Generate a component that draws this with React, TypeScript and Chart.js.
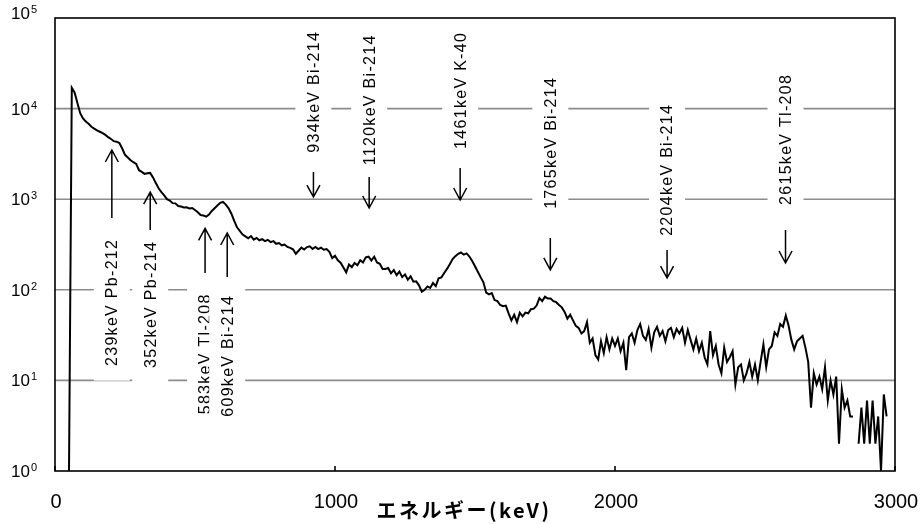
import React, { useEffect, useRef } from "react";
import { Chart, registerables } from "chart.js";

Chart.register(...registerables);

// ---- Data ----
// Spectrum: counts per channel, channel energies start at E_START keV with E_STEP spacing
const E_START = 50;
const E_STEP = 10;
const COUNTS: (number | null)[] = [
  // 50 - 140
  1, 17000, 15100, 11500, 8900, 7800, 7200, 6800, 6300, 6000,
  // 150 - 240
  5750, 5550, 5370, 5130, 4840, 4620, 4370, 4310, 4170, 3630,
  // 250 - 340
  3090, 2880, 2690, 2560, 2450, 2090, 2000, 1905, 1930, 1950,
  // 350 - 440
  1740, 1510, 1320, 1200, 1100, 1000, 965, 905, 900, 842,
  // 450 - 540
  830, 812, 815, 790, 800, 760, 718, 668, 660, 642,
  // 550 - 640
  676, 741, 794, 851, 912, 933, 871, 794, 692, 575,
  // 650 - 740
  490, 447, 407, 389, 370, 392, 358, 374, 352, 362,
  // 750 - 840
  345, 356, 336, 345, 322, 328, 310, 316, 297, 290,
  // 850 - 940
  280, 250, 270, 292, 278, 296, 302, 283, 297, 281,
  // 950 - 1040
  292, 277, 282, 262, 224, 238, 212, 199, 176, 156,
  // 1050 - 1140
  190, 178, 198, 187, 212, 200, 228, 232, 210, 232,
  // 1150 - 1240
  200, 194, 170, 170, 174, 152, 165, 145, 159, 138,
  // 1250 - 1340
  148, 129, 141, 123, 124, 112, 95, 100, 109, 105,
  // 1350 - 1440
  119, 110, 134, 137, 153, 170, 192, 218, 235, 250,
  // 1450 - 1540
  258, 244, 252, 233, 208, 182, 158, 138, 121, 93,
  // 1550 - 1640
  89, 92, 77, 75, 68, 66, 67, 55, 46, 53,
  // 1650 - 1740
  44, 56, 51, 56, 55, 61, 62, 67, 81, 75,
  // 1750 - 1840
  84, 80, 80, 75, 73, 68, 64, 57, 48, 53,
  // 1850 - 1940
  46, 40, 38, 33, 35, 44, 26, 29, 19, 17,
  // 1950 - 2040
  27, 20, 30, 22, 29, 24, 29, 21, 26, 13,
  // 2050 - 2140
  30, 33, 26, 36, 42, 31, 28, 37, 23, 34,
  // 2150 - 2240
  39, 31, 35, 27, 36, 38, 30, 37, 33, 38,
  // 2250 - 2340
  26, 36, 28, 22, 29, 21, 26, 18, 15, 35,
  // 2350 - 2440
  19, 24, 15, 12, 23, 16, 18, 21, 9, 14,
  // 2450 - 2540
  15, 10, 12, 16, 11, 15, 10, 16, 25, 14,
  // 2550 - 2640
  22, 24, 34, 31, 42, 39, 52, 40, 28, 22,
  // 2650 - 2740
  27, 29, 31, 23, 16, 5, 12, 9, 11, 8,
  // 2750 - 2840
  14, 6, 10, 7, 11, 2, 8, 5, 6, 4,
  // 2850 - 2940
  4, null, 2, 5, 2, 6, 2, 6, 2, 4,
  // 2950 - 2970
  1, 7, 4,
];

const X_TICKS = [0, 1000, 2000, 3000];
const Y_EXPONENTS = [0, 1, 2, 3, 4, 5];
const X_TITLE = "エネルギー(keV)";

// Peak annotations
const PEAK_LABELS = [
  "239keV Pb-212",
  "352keV Pb-214",
  "583keV Tl-208",
  "609keV Bi-214",
  "934keV Bi-214",
  "1120keV Bi-214",
  "1461keV K-40",
  "1765keV Bi-214",
  "2204keV Bi-214",
  "2615keV Tl-208",
];
// marker position on the energy axis (keV, as drawn)
const PEAK_MARK_E = [203, 340, 536, 615, 923, 1122, 1447, 1769, 2186, 2609];
const PEAK_ARROW_UP = [true, true, true, true, false, false, false, false, false, false];

// ---- Layout (in decades of the count axis) ----
const LABEL_CENTER_EXP = [1.854, 1.832, 1.286, 1.264, 4.178, 4.09, 4.194, 3.615, 3.317, 3.653];
const ARROW_TAIL_EXP = [2.792, 2.66, 2.185, 2.141, 3.3, 3.245, 3.344, 2.572, 2.439, 2.66];
const ARROW_TIP_EXP = [3.543, 3.079, 2.679, 2.627, 3.024, 2.903, 2.991, 2.219, 2.13, 2.296];

const SANS = '"Liberation Sans", Arial, sans-serif';

const decorPlugin = {
  id: "decor",
  beforeDatasetsDraw(chart: any) {
    const { ctx, chartArea: a, scales } = chart;
    const y = scales.y;
    ctx.save();
    ctx.strokeStyle = "#8c8c8c";
    ctx.lineWidth = 1.6;
    for (const e of Y_EXPONENTS) {
      if (e === Y_EXPONENTS[0] || e === Y_EXPONENTS[Y_EXPONENTS.length - 1]) continue;
      const py = y.getPixelForValue(Math.pow(10, e));
      ctx.beginPath();
      ctx.moveTo(a.left, py);
      ctx.lineTo(a.right, py);
      ctx.stroke();
    }
    ctx.restore();
  },
  afterDatasetsDraw(chart: any) {
    const { ctx, chartArea: a, scales } = chart;
    const x = scales.x;
    const y = scales.y;
    ctx.save();

    // annotation labels
    ctx.font = "16px " + SANS;
    (ctx as any).letterSpacing = "1.3px";
    PEAK_LABELS.forEach((label, i) => {
      const px = x.getPixelForValue(PEAK_MARK_E[i]);
      const cy = y.getPixelForValue(Math.pow(10, LABEL_CENTER_EXP[i]));
      const w = ctx.measureText(label).width;
      // white box
      ctx.fillStyle = "#ffffff";
      const halfLen = w / 2 + 14;
      ctx.fillRect(px - 18, cy - halfLen, 36, halfLen * 2);
      // text
      ctx.save();
      ctx.translate(px, cy);
      ctx.rotate(-Math.PI / 2);
      ctx.fillStyle = "#000000";
      ctx.textAlign = "center";
      ctx.textBaseline = "middle";
      ctx.fillText(label, 0.65, 1);
      ctx.restore();
    });
    (ctx as any).letterSpacing = "0px";

    // arrows
    ctx.strokeStyle = "#000000";
    ctx.lineWidth = 1.5;
    PEAK_LABELS.forEach((_, i) => {
      const px = x.getPixelForValue(PEAK_MARK_E[i]);
      const tail = y.getPixelForValue(Math.pow(10, ARROW_TAIL_EXP[i]));
      const tip = y.getPixelForValue(Math.pow(10, ARROW_TIP_EXP[i]));
      const dir = PEAK_ARROW_UP[i] ? 1 : -1;
      ctx.beginPath();
      ctx.moveTo(px, tail);
      ctx.lineTo(px, tip);
      ctx.moveTo(px - 6.5, tip + dir * 12);
      ctx.lineTo(px, tip);
      ctx.lineTo(px + 6.5, tip + dir * 12);
      ctx.stroke();
    });

    // frame
    ctx.strokeStyle = "#000000";
    ctx.lineWidth = 1.6;
    ctx.strokeRect(a.left, a.top, a.right - a.left, a.bottom - a.top);
    X_TICKS.forEach((v) => {
      const px = x.getPixelForValue(v);
      ctx.beginPath();
      ctx.moveTo(px, a.bottom);
      ctx.lineTo(px, a.bottom - 5);
      ctx.stroke();
    });

    // y tick labels 10^n
    ctx.fillStyle = "#000000";
    ctx.textAlign = "left";
    ctx.textBaseline = "alphabetic";
    Y_EXPONENTS.forEach((e, idx) => {
      const py = y.getPixelForValue(Math.pow(10, e));
      const base = idx === Y_EXPONENTS.length - 1 ? py + 0.5 : py + 6;
      ctx.font = "17px " + SANS;
      ctx.fillText("10", 11, base);
      const w = ctx.measureText("10").width;
      ctx.font = "11px " + SANS;
      ctx.fillText(String(e), 11 + w + 1, base - 6);
    });

    // x tick labels
    ctx.font = "20px " + SANS;
    ctx.textAlign = "center";
    X_TICKS.forEach((v) => {
      const px = x.getPixelForValue(v);
      ctx.fillText(String(v), px + 1, 507.5);
    });

    // x title
    ctx.font = 'bold 20px "Noto Sans CJK JP", sans-serif';
    (ctx as any).letterSpacing = "2.5px";
    ctx.textAlign = "center";
    ctx.fillText(X_TITLE, 464, 518);
    (ctx as any).letterSpacing = "0px";

    ctx.restore();
  },
};

export default function App() {
  const canvasRef = useRef<HTMLCanvasElement | null>(null);

  useEffect(() => {
    const canvas = canvasRef.current;
    if (!canvas) return;
    const points = COUNTS.map((c, i) => ({ x: E_START + i * E_STEP, y: c }));
    const chart = new Chart(canvas, {
      type: "line",
      data: {
        datasets: [
          {
            data: points as any,
            borderColor: "#000000",
            borderWidth: 2,
            pointRadius: 0,
            tension: 0,
            spanGaps: false,
            fill: false,
          },
        ],
      },
      options: {
        animation: false,
        responsive: false,
        devicePixelRatio: 1,
        layout: { padding: { left: 55, right: 27, top: 18, bottom: 53 } },
        plugins: { legend: { display: false }, tooltip: { enabled: false } },
        scales: {
          x: { type: "linear", min: X_TICKS[0], max: X_TICKS[X_TICKS.length - 1], display: false },
          y: {
            type: "logarithmic",
            min: Math.pow(10, Y_EXPONENTS[0]),
            max: Math.pow(10, Y_EXPONENTS[Y_EXPONENTS.length - 1]),
            display: false,
          },
        },
      },
      plugins: [decorPlugin],
    });
    return () => chart.destroy();
  }, []);

  return (
    <div style={{ position: "absolute", left: 0, top: 0, width: 922, height: 524, background: "#fff" }}>
      <canvas ref={canvasRef} width={922} height={524} />
    </div>
  );
}
